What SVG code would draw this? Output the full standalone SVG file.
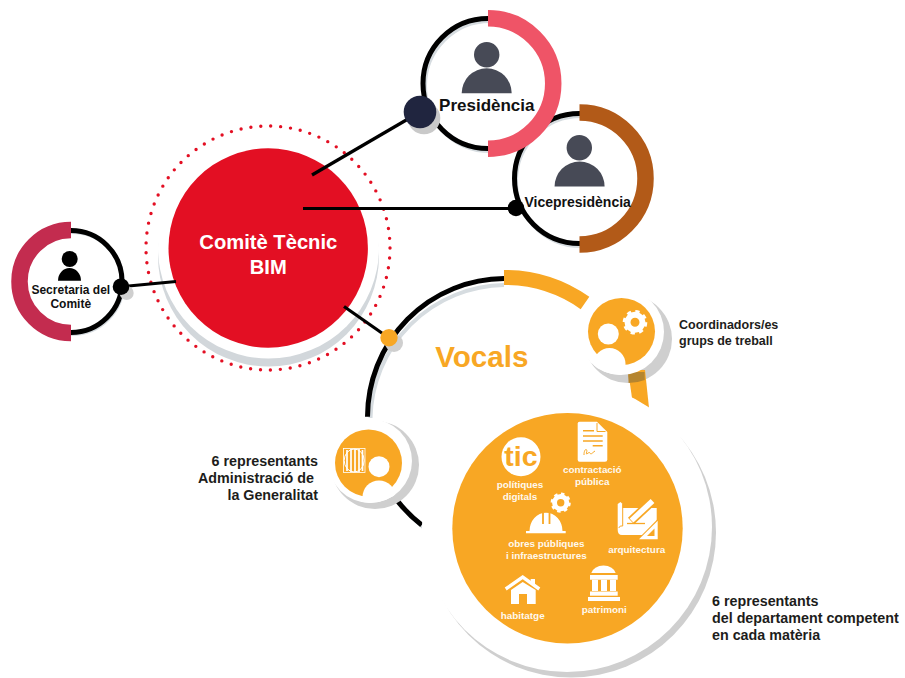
<svg xmlns="http://www.w3.org/2000/svg" width="905" height="678" viewBox="0 0 905 678">
<style>
.b{font-family:"Liberation Sans",Arial,sans-serif;font-weight:700}
.o{fill:#f8a724}
.w{fill:#fff}
.g{fill:#cfcfcf}
.wt{font-family:"Liberation Sans",Arial,sans-serif;font-weight:700;fill:#fff9ee;font-size:9.9px;text-anchor:middle}
.lab{font-family:"Liberation Sans",Arial,sans-serif;font-weight:700;font-size:14.300px;fill:#1d1d1b}
.lab2{font-family:"Liberation Sans",Arial,sans-serif;font-weight:700;font-size:12.500px;fill:#1d1d1b}
.ink{font-family:"Liberation Sans",Arial,sans-serif;font-weight:700;fill:#111;text-anchor:middle}
.ring{fill:none;stroke:#000;stroke-width:5}
.sh{fill:none;stroke:#d6dce0;stroke-width:4}
.arc{fill:none;stroke-width:16.500}
.ol{fill:none;stroke:#f8a724}
</style>
<defs>
<g id="gear">
<circle r="7.500" fill="none" stroke="#fff" stroke-width="6"/>
<circle r="10.800" fill="none" stroke="#fff" stroke-width="3" stroke-dasharray="4.200 4.282"/>
</g>
<clipPath id="cpC"><circle cx="621" cy="332" r="43"/></clipPath>
<clipPath id="cpG"><circle cx="370" cy="461" r="42"/></clipPath>
</defs>
<rect width="905" height="678" fill="#fff"/>
<g id="comite">
<circle cx="268" cy="248" r="122" fill="none" stroke="#e30f23" stroke-width="3.400" stroke-linecap="round" stroke-dasharray="0 9.955"/>
<circle cx="268.500" cy="256" r="110.500" fill="#d2d7db"/>
<circle cx="268.500" cy="248" r="110.500" class="w"/>
<circle cx="268.200" cy="248" r="99.700" fill="#e30f23"/>
<text class="b" x="268.300" y="248.500" font-size="20.200" fill="#fff" text-anchor="middle">Comitè Tècnic</text>
<text class="b" x="268.300" y="273.500" font-size="20.200" fill="#fff" text-anchor="middle">BIM</text>
</g>
<g id="connectors" fill="none" stroke="#000" stroke-width="3.200">
<path d="M312 175L420 112"/>
<path d="M303 208.500H516"/>
<path d="M118 287L176 281.500"/>
<path d="M344 306.500L389 338"/>
</g>
<g id="vocals">
<path d="M370.500 418A136 136 0 0 1 504 285" fill="none" stroke="#d6dce0" stroke-width="4"/>
<path d="M367.500 416.700A137.500 138.500 0 0 1 504 278.500" fill="none" stroke="#000" stroke-width="5"/>
<path d="M504 277.500A139.500 139.500 0 0 1 585 303" fill="none" stroke="#f8a724" stroke-width="15"/>
<path d="M400 503A137 137 0 0 0 423 527" fill="none" stroke="#d6dce0" stroke-width="4"/>
<path d="M396 499A137 137 0 0 0 421.700 525" fill="none" stroke="#000" stroke-width="5"/>
<text class="b" x="481.800" y="366.700" font-size="29.600" fill="#f8a724" text-anchor="middle">Vocals</text>
<circle cx="394" cy="343" r="9" class="g"/>
<circle cx="389" cy="337.700" r="8.700" class="o"/>
</g>
<g id="coordinadors">
<circle cx="628" cy="339" r="44" class="g"/>
<path d="M628 370H645L649 408L632 398Z" class="o"/>
<path d="M628 372H644.600L644.800 380Q637 383 628.600 383Z" fill="#b5852f"/>
<circle cx="621" cy="332" r="43" class="w"/>
<circle cx="621.500" cy="331.500" r="33.500" class="o"/>
<circle cx="608.300" cy="334" r="10.500" class="w"/>
<circle cx="609.500" cy="364" r="16" class="w" clip-path="url(#cpC)"/>
<use href="#gear" transform="translate(635 322.300)"/>
<text class="lab2" x="679" y="329">Coordinadors/es</text>
<text class="lab2" x="679" y="345">grups de treball</text>
</g>
<g id="generalitat">
<circle cx="375" cy="465" r="44" class="g"/>
<circle cx="370" cy="461" r="42" class="w"/>
<circle cx="368.500" cy="463" r="33.500" class="o"/>
<circle cx="379" cy="466.700" r="10.500" class="w"/>
<circle cx="379" cy="497" r="16.500" class="w" clip-path="url(#cpG)"/>
<rect x="343.500" y="448.500" width="21.500" height="24" fill="none" stroke="#fff" stroke-width=".8"/>
<ellipse cx="354.200" cy="460.500" rx="10" ry="11.500" fill="none" stroke="#fff" stroke-width="1"/>
<path d="M347 450V471M351 449V472M355 449V472M359 449V472M362.500 450V471" stroke="#fff" stroke-width="1.700"/>
<text class="lab" x="318" y="466" text-anchor="end">6 representants</text>
<text class="lab" x="314" y="483" text-anchor="end">Administració de</text>
<text class="lab" x="318" y="500" text-anchor="end">la Generalitat</text>
</g>
<g id="departament">
<circle cx="571" cy="532.500" r="145" class="g"/>
<circle cx="567" cy="527" r="145" class="w"/>
<circle cx="567.500" cy="528.300" r="115.200" class="o"/>
<g id="digitals">
<circle cx="521" cy="456.700" r="19.500" class="w"/>
<text class="b" x="521" y="466" font-size="28.500" fill="#f8a724" text-anchor="middle">tic</text>
<text class="wt" x="520" y="488.300">polítiques</text>
<text class="wt" x="520" y="499.700">digitals</text>
</g>
<g id="contractacio">
<path d="M579.500 421.700H597L607.300 432V459.500Q607.300 461.700 605 461.700H579.500Q577.700 461.700 577.700 459.500V423.500Q577.700 421.700 579.500 421.700Z" class="w"/>
<path d="M597 423V431.500H605.500" class="ol" stroke-width="1"/>
<path d="M583 430.700H594M583 436H602.700M583 441H602.700M592.700 445.700H602.700" class="ol" stroke-width="1.500"/>
<path d="M584 455C584 448 588 448 586.500 453C586 456 589 451 590 453C591 455 592 453 595 451" class="ol" stroke-width="1"/>
<text class="wt" x="592.300" y="472.700">contractació</text>
<text class="wt" x="592.300" y="485">pública</text>
</g>
<g id="obres">
<use href="#gear" transform="translate(560.700 502.700) scale(.82)"/>
<path d="M529.500 531A16.500 18.300 0 0 1 562.500 531H565.700V533.300H526V531Z" class="w"/>
<path d="M543 512.500V524M549.500 512.500V524" class="ol" stroke-width="1.800"/>
<text class="wt" x="546.300" y="546.700">obres públiques</text>
<text class="wt" x="546.300" y="558.700">i infraestructures</text>
</g>
<g id="arquitectura">
<path d="M622.500 508H656.700V535H622Q617.700 535 617.700 530V504L620.500 502L622.500 504Z" class="w"/>
<path d="M622.700 504V526Q620 525 618.700 528" class="ol" stroke-width="1"/>
<path d="M631 521L653 500.500" stroke="#f8a724" stroke-width="9"/>
<path d="M631.500 520.500L652.500 501" stroke="#fff" stroke-width="5.500"/>
<path d="M627 523.500H645" class="ol" stroke-width="1.300"/>
<path d="M636 541L657.700 519V541Z" class="o"/>
<path d="M639 539.300L657.700 520.700V539.300Z" class="w"/>
<path d="M647 536L654.500 528.500V536Z" class="o"/>
<text class="wt" x="636.700" y="552.700">arquitectura</text>
</g>
<g id="habitatge">
<path d="M505.700 589L522.700 577L539.300 589" fill="none" stroke="#fff" stroke-width="3.400"/>
<path d="M530.700 579H535V585L530.700 582Z" class="w"/>
<path d="M511 590L522.700 582L535.700 590V604H527V594H519V604H511Z" class="w"/>
<text class="wt" x="522.700" y="618.700">habitatge</text>
</g>
<g id="patrimoni">
<path d="M591.300 573A12.400 9 0 0 1 615.700 573Z" class="w"/>
<rect x="590" y="575" width="27.700" height="4.700" class="w"/>
<path d="M592 579.700H598V591H592ZM601 579.700H607V591H601ZM610 579.700H616V591H610Z" class="w"/>
<rect x="590" y="591.500" width="27.700" height="4.200" class="w"/>
<rect x="588" y="597" width="32" height="4" class="w"/>
<text class="wt" x="604.300" y="613.300">patrimoni</text>
</g>
<text class="lab" x="712" y="606">6 representants</text>
<text class="lab" x="712" y="623">del departament competent</text>
<text class="lab" x="712" y="640">en cada matèria</text>
</g>
<g id="vicepresidencia">
<circle cx="581" cy="181" r="65" class="sh"/>
<circle cx="579.500" cy="178.500" r="65" class="ring"/>
<path d="M579.500 112.500A66 66 0 0 1 579.500 244.500" class="arc" stroke="#b25a18"/>
<circle cx="579.300" cy="147.700" r="12.700" fill="#474a56"/>
<path d="M554.600 186.500A25 25 0 0 1 604.600 186.500Z" fill="#474a56"/>
<text class="ink" x="577.700" y="207.300" font-size="14">Vicepresidència</text>
<circle cx="516" cy="208" r="8.300" fill="#000"/>
</g>
<g id="presidencia">
<circle cx="490" cy="86" r="65" class="sh"/>
<circle cx="488" cy="83.500" r="65" class="ring"/>
<path d="M488 18.250A65.250 65.250 0 0 1 488 148.750" class="arc" stroke="#ef5467"/>
<circle cx="486.700" cy="54.700" r="12.700" fill="#474a56"/>
<path d="M461.700 93.300A25 25 0 0 1 511.700 93.300Z" fill="#474a56"/>
<text class="ink" x="486.800" y="110.700" font-size="17">Presidència</text>
<circle cx="424" cy="118" r="16.300" fill="#c9c9c9"/>
<circle cx="420" cy="112" r="16.300" fill="#20253f"/>
</g>
<g id="secretaria">
<circle cx="72" cy="283" r="51" class="sh"/>
<circle cx="71" cy="281.500" r="51" class="ring"/>
<path d="M71 230A51.500 51.500 0 0 0 71 333" class="arc" stroke="#c32c4f"/>
<circle cx="69.700" cy="259" r="8" fill="#000"/>
<path d="M58 280.700A11.500 12.700 0 0 1 81 280.700Z" fill="#000"/>
<text class="ink" x="70.800" y="294" font-size="12">Secretaria del</text>
<text class="ink" x="70.800" y="307.700" font-size="12">Comitè</text>
<circle cx="126.700" cy="293" r="7" fill="#cfcfcf"/>
<circle cx="121" cy="286.700" r="8.300" fill="#000"/>
</g>
</svg>
